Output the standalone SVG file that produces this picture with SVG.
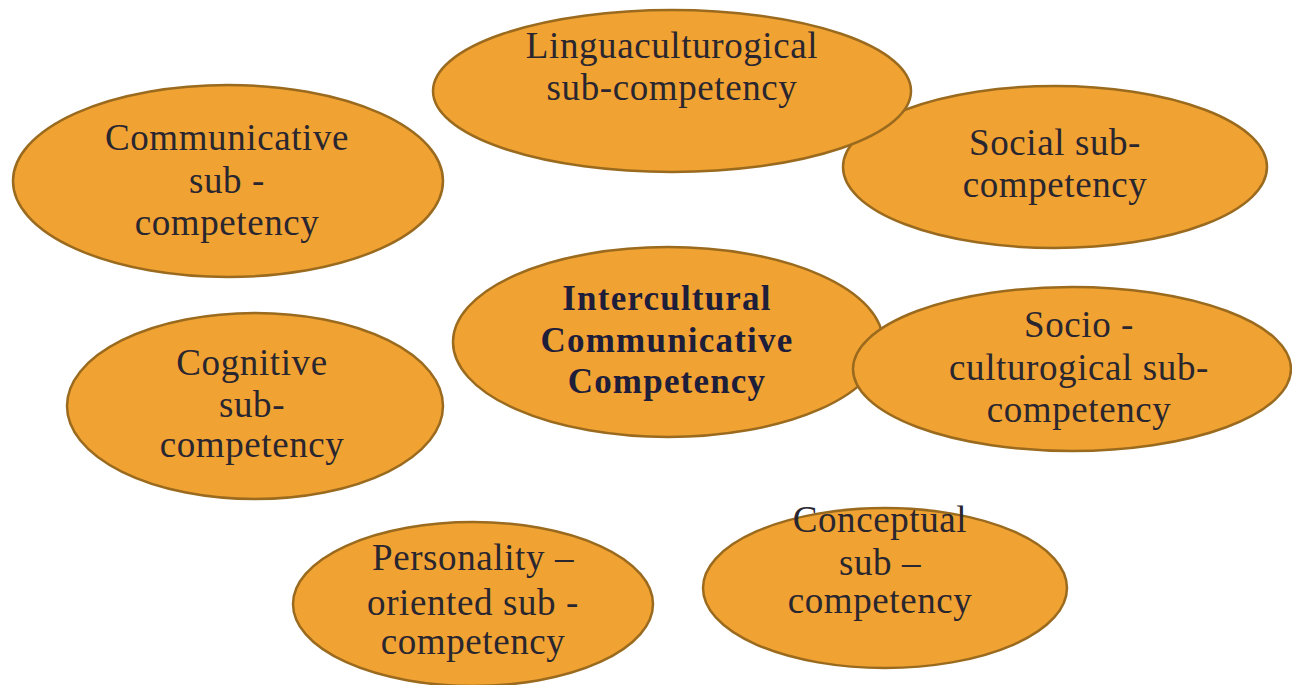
<svg xmlns="http://www.w3.org/2000/svg" width="1292" height="685" viewBox="0 0 1292 685">
<style>
.n{fill:#F0A232;stroke:#9A6A1E;stroke-width:2.5}
.t{font-family:"Liberation Serif","Times New Roman",serif;font-size:37px;fill:#2a2630;text-anchor:middle;letter-spacing:0.6px}
.b{font-family:"Liberation Serif","Times New Roman",serif;font-size:35px;font-weight:bold;fill:#1e1d3a;text-anchor:middle;letter-spacing:1.2px}
</style>
<rect width="1292" height="685" fill="#ffffff"/>
<g id="connectors"></g>
<g id="social">
<ellipse class="n" cx="1055" cy="167" rx="212" ry="81"/>
<text class="t" x="1055" y="155">Social sub-</text>
<text class="t" x="1055" y="197">competency</text>
</g>
<g id="lingua">
<ellipse class="n" cx="672" cy="91" rx="239" ry="81"/>
<text class="t" x="672" y="58">Linguaculturogical</text>
<text class="t" x="672" y="100">sub-competency</text>
</g>
<g id="communicative">
<ellipse class="n" cx="228" cy="181" rx="215" ry="96"/>
<text class="t" x="227" y="150">Communicative</text>
<text class="t" x="227" y="193">sub -</text>
<text class="t" x="227" y="235">competency</text>
</g>
<g id="intercultural">
<ellipse class="n" cx="668" cy="342" rx="215" ry="95"/>
<text class="b" x="667" y="310">Intercultural</text>
<text class="b" x="667" y="352">Communicative</text>
<text class="b" x="667" y="393">Competency</text>
</g>
<g id="socio">
<ellipse class="n" cx="1072" cy="369" rx="219" ry="82"/>
<text class="t" x="1079" y="337">Socio -</text>
<text class="t" x="1079" y="380">culturogical sub-</text>
<text class="t" x="1079" y="422">competency</text>
</g>
<g id="cognitive">
<ellipse class="n" cx="255" cy="406" rx="188" ry="93"/>
<text class="t" x="252" y="375">Cognitive</text>
<text class="t" x="252" y="417">sub-</text>
<text class="t" x="252" y="457">competency</text>
</g>
<g id="personality">
<ellipse class="n" cx="473" cy="604" rx="180" ry="82"/>
<text class="t" x="473" y="570">Personality –</text>
<text class="t" x="473" y="615">oriented sub -</text>
<text class="t" x="473" y="654">competency</text>
</g>
<g id="conceptual">
<ellipse class="n" cx="885" cy="588" rx="182" ry="80"/>
<text class="t" x="880" y="532">Conceptual</text>
<text class="t" x="880" y="575">sub –</text>
<text class="t" x="880" y="613">competency</text>
</g>
</svg>
